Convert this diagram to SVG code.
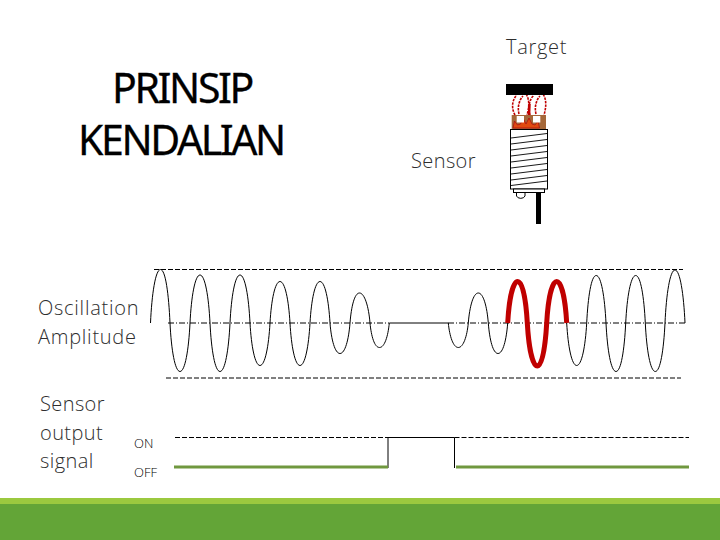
<svg xmlns="http://www.w3.org/2000/svg" width="720" height="540" viewBox="0 0 720 540">
<style>
.t{font-family:"Open Sans","Noto Sans",sans-serif;font-weight:300;fill:#2e2e2e;font-size:20px;letter-spacing:.4px}
.a{letter-spacing:.75px}
.s{font-size:13px;letter-spacing:0;fill:#000}
.h{font-family:"Noto Sans","Open Sans",sans-serif;font-size:41px;fill:#000;stroke:#000;stroke-width:.3;text-anchor:middle;letter-spacing:-2.400px}
.w{fill:none;stroke:#000;stroke-width:1}
.d{fill:none;stroke:#000;stroke-width:1;stroke-dasharray:5 2}
.c{fill:none;stroke:#000;stroke-width:1;stroke-dasharray:6 2 1 2}
.g{fill:none;stroke:#70983f;stroke-width:3}
.f{fill:none;stroke:#c00000;stroke-width:1.6;stroke-dasharray:2.500 1}
</style>
<rect width="720" height="540" fill="#fff"/>
<g id="footer"><rect y="498" width="720" height="6" fill="#9bc93f"/><rect y="504" width="720" height="36" fill="#63a537"/></g>
<g id="title"><text class="h" x="182" y="103">PRINSIP</text><text class="h" x="181" y="155">KENDALIAN</text></g>
<g id="labels">
<text class="t" style="letter-spacing:.7px" x="506" y="54">Target</text>
<text class="t" x="411" y="168">Sensor</text>
<text class="t a" x="38" y="315">Oscillation</text>
<text class="t a" x="38" y="344">Amplitude</text>
<text class="t" x="40" y="411">Sensor</text>
<text class="t" x="40" y="440">output</text>
<text class="t" x="40" y="468">signal</text>
<text class="t s" x="134" y="448">ON</text>
<text class="t s" x="134" y="477">OFF</text>
</g>
<g id="sensor">
<rect x="511.700" y="115" width="34.300" height="14.500" fill="#a5683a"/>
<path d="M513 128 l1.500 -7 3 4 3 -1 2.500 -6 3 6 3 -6 3 6 3 1 3 -4 1.500 7 z" fill="#e04a10" stroke="#b01010" stroke-width=".8"/>
<rect x="516.700" y="116" width="7.300" height="6.500" fill="#fff"/><rect x="533" y="116" width="7.300" height="6.500" fill="#fff"/>
<path class="f" d="M515 115 C510 106 514 98 516 96 C516 90 524 88 526 94 C530 100 529 108 527 115"/>
<path class="f" d="M530 115 C527 106 531 98 533 96 C533 90 541 88 543 94 C547 100 546 108 544 115"/>
<path class="f" d="M519 114 C517 106 520 99 523 96"/>
<path class="f" d="M536 114 C534 106 537 99 540 96"/>
<path d="M529 115 L529.500 104" stroke="#c00000" stroke-width="2.500" fill="none"/>
<rect x="506" y="84" width="47" height="11" fill="#000"/>
<rect x="510.500" y="129.500" width="37" height="59.500" fill="#fff" stroke="#000" stroke-width="1"/>
<path d="M511 138 L547 133.500 M511 144 L547 139.500 M511 150 L547 145.500 M511 156 L547 151.500 M511 162 L547 157.500 M511 168 L547 163.500 M511 174 L547 169.500 M511 180 L547 175.500 M511 185.500 L547 181" stroke="#000" stroke-width=".9" fill="none"/>
<rect x="513.500" y="189" width="31" height="3.500" fill="#fff" stroke="#000" stroke-width="1"/>
<path d="M516.500 193 V196 A4.500 3.500 0 0 0 525 196 V193" fill="#fff" stroke="#000" stroke-width="1"/>
<rect x="536" y="192.500" width="5" height="31.500" fill="#000"/>
</g>
<g id="connectors">
<path class="d" d="M154 269.500 H683"/>
<path class="d" d="M166 378 H681"/>
<path class="c" d="M168 323 H389 M448 323 H686"/>
<path class="d" d="M175 437.500 H388 M454.500 437.500 H689"/>
<path class="w" d="M388 468 V437.500 H454.500 V468"/>
<path class="g" d="M174 467 H388 M456 467 H689"/>
<path class="w" d="M150.500 323 C151.800 294 155.500 269.500 160.500 269.500 S168.700 294 170 323 C171.300 350 175 371.500 180 371.500 S188.700 350 190 323 C191.300 296.600 195 275 200 275 S208.700 296.600 210 323 C211.300 350 215 371.500 220 371.500 S228.700 350 230 323 C231.300 296.600 235 275 240 275 S248.700 296.600 250 323 C251.300 346.400 255 365.500 260 365.500 S268.700 346.400 270 323 C271.300 300.200 275 281.500 280 281.500 S288.700 300.200 290 323 C291.300 346.400 295 365.500 300 365.500 S308.700 346.400 310 323 C311.300 300.200 315 281.500 320 281.500 S328.700 300.200 330 323 C331.300 339.800 335 353.500 340 353.500 S348.700 339.800 350 323 C351.300 306.500 354.500 293 359.500 293 S368.700 306.500 370 323 C371.300 336.500 374.500 347.500 379.500 347.500 S388 336.500 389.300 323 H448.300 C449.600 336.500 453.300 347.500 458.300 347.500 S467 336.500 468.300 323 C469.600 306.500 473.300 293 478.300 293 S487 306.500 488.300 323 C489.600 339.800 493 353.500 498 353.500 S506.400 339.800 507.700 323"/>
<path class="w" d="M566.700 323 C568 346.400 571.700 365.500 576.700 365.500 S585.400 346.400 586.700 323 C588 297 591.200 275.500 596.200 275.500 S604.700 297 606 323 C607.300 350 611 371.500 616 371.500 S624.400 350 625.700 323 C627 297 630.700 275.500 635.700 275.500 S644 297 645.300 323 C646.600 350 650.300 371.500 655.300 371.500 S663.700 350 665 323 C666.300 294 670 270 675 270 S683.700 294 685 323"/>
<path fill="none" stroke="#c00000" stroke-width="5" d="M507.700 323 C509 300 512.700 281.500 517.700 281.500 S526 300 527.300 323 C528.600 346 532.300 366 537.300 366 S545.400 346 546.700 323 C548 300 551.700 281.500 556.700 281.500 S565.400 300 566.700 323"/>
</g>
</svg>
